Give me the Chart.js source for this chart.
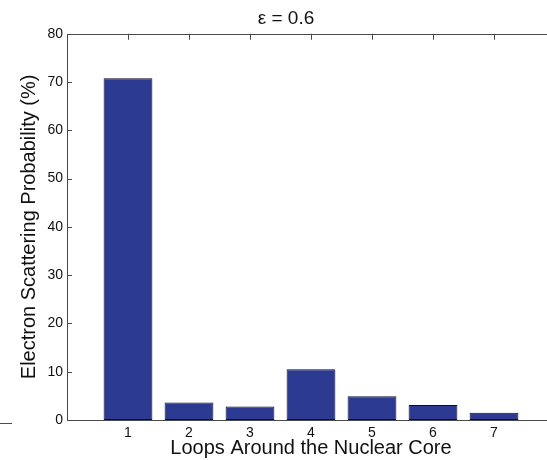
<!DOCTYPE html>
<html>
<head>
<meta charset="utf-8">
<script src="https://cdn.jsdelivr.net/npm/chart.js@4"></script>
<style>
  html, body { margin: 0; padding: 0; background: #fff; overflow: hidden; }
  /* the original is cropped on the right, so the canvas is a bit wider than the window */
  #wrap { width: 560px; height: 460px; }
</style>
</head>
<body>
<div id="wrap"><canvas id="grafico"></canvas></div>
<script>
// data
const loops = [1, 2, 3, 4, 5, 6, 7];
const probability = [70.8, 3.6, 2.8, 10.5, 4.9, 3.1, 1.5];
const yTicks = [0, 10, 20, 30, 40, 50, 60, 70, 80];

const axisColor = "#4a4a4a";
const fontName = "'Liberation Sans', Arial, Helvetica, sans-serif";

// matlab style axes with inward ticks
const frame = {
  id: "frame",
  beforeDatasetsDraw(chart) {
    const { ctx, chartArea: a, scales } = chart;
    ctx.save();
    ctx.strokeStyle = axisColor;
    ctx.lineWidth = 1;
    ctx.beginPath();
    loops.forEach((v) => {
      const x = Math.round(scales.x.getPixelForValue(v)) + 0.5;
      ctx.moveTo(x, a.bottom);
      ctx.lineTo(x, a.bottom - 6);
      ctx.moveTo(x, a.top);
      ctx.lineTo(x, a.top + 6);
    });
    yTicks.forEach((v) => {
      const y = Math.round(scales.y.getPixelForValue(v)) + 0.5;
      ctx.moveTo(a.left, y);
      ctx.lineTo(a.left + 5, y);
    });
    ctx.stroke();
    ctx.restore();
  },
  afterDatasetsDraw(chart) {
    const { ctx, chartArea: a } = chart;
    const l = Math.round(a.left) + 0.5;
    const r = Math.round(a.right) + 0.5;
    const t = Math.round(a.top) + 0.5;
    const b = Math.round(a.bottom) + 0.5;
    ctx.save();
    ctx.strokeStyle = axisColor;
    ctx.lineWidth = 1;
    ctx.beginPath();
    ctx.moveTo(r, t);
    ctx.lineTo(l, t);
    ctx.lineTo(l, b);
    ctx.lineTo(r, b);
    // little stray dash at the lower left of the original
    ctx.moveTo(0, 423.5);
    ctx.lineTo(12, 423.5);
    ctx.stroke();
    ctx.restore();
  },
};

new Chart(document.getElementById("grafico"), {
  type: "bar",
  data: {
    datasets: [
      {
        data: loops.map((v, i) => ({ x: v, y: probability[i] })),
        backgroundColor: "#2c3a92",
        borderColor: "#0e0f2a",
        borderWidth: 1,
        borderSkipped: false,
        barPercentage: 0.8,
        categoryPercentage: 1,
      },
    ],
  },
  options: {
    responsive: true,
    maintainAspectRatio: false,
    animation: false,
    layout: { padding: { left: 17, right: 5, top: 0, bottom: 0 } },
    plugins: {
      legend: { display: false },
      tooltip: { enabled: false },
      title: {
        display: true,
        text: "ε = 0.6",
        color: "#111",
        font: { family: fontName, size: 19, weight: "normal" },
        padding: { top: 7, bottom: 4 },
      },
    },
    scales: {
      x: {
        type: "linear",
        min: 0,
        max: 8,
        offset: false,
        grid: { display: false, drawTicks: false, offset: false },
        border: { display: false },
        ticks: {
          stepSize: 1,
          padding: 5,
          color: "#111",
          font: { family: fontName, size: 14 },
          callback: (v) => (v >= 1 && v <= 7 ? v : ""),
        },
        title: {
          display: true,
          text: "Loops Around the Nuclear Core",
          color: "#111",
          font: { family: fontName, size: 20 },
          padding: 0,
        },
        afterFit(scale) {
          scale.height = 40;
        },
      },
      y: {
        min: 0,
        max: 80,
        grid: { display: false, drawTicks: false },
        border: { display: false },
        ticks: {
          stepSize: 10,
          padding: 4,
          color: "#111",
          font: { family: fontName, size: 14 },
        },
        title: {
          display: true,
          text: "Electron Scattering Probability (%)",
          color: "#111",
          font: { family: fontName, size: 20 },
          padding: 0,
        },
        afterFit(scale) {
          scale.width = 50;
        },
      },
    },
  },
  plugins: [frame],
});
</script>
</body>
</html>
